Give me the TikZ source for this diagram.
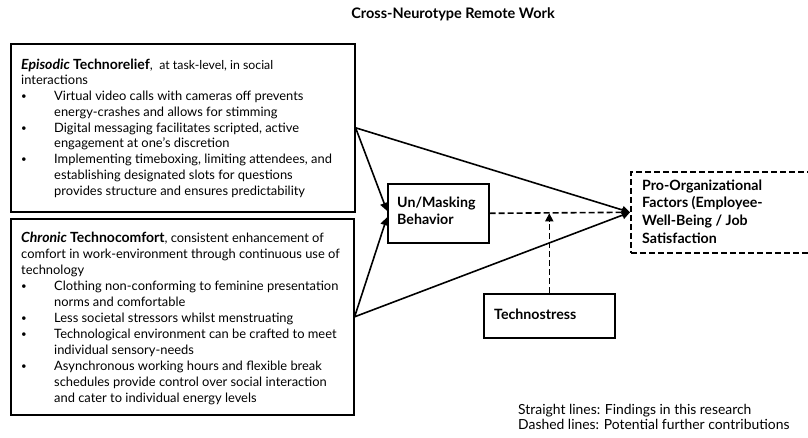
\documentclass[tikz,border=0pt]{standalone}
\usepackage{fontspec}
\setmainfont{Lato}
\usetikzlibrary{arrows.meta}
\newcommand{\bul}{\makebox[33pt][l]{\raisebox{1pt}{\scalebox{0.75}{\textbullet}}}}
\newcommand{\ind}{\hspace*{33pt}}
\newcommand{\hb}[1]{{\fontsize{14}{15.75}\selectfont\bfseries #1}}
\begin{document}
\begin{tikzpicture}[x=1pt,y=-1pt,
  box/.style={draw,line width=1.6pt,inner sep=0pt,anchor=north west},
  dbox/.style={box,dash pattern=on 6pt off 3pt},
  txt/.style={inner sep=0pt,anchor=base west,align=left},
  arr/.style={line width=1.6pt,-{Triangle[length=8pt,width=8pt]}},
  darr/.style={arr,dash pattern=on 6pt off 3pt}]
\useasboundingbox (0,0) rectangle (808,437);
% title
\node[inner sep=0pt,font=\fontsize{14.5}{16}\selectfont\bfseries] (title) at (453,14) {Cross-Neurotype Remote Work};
% boxes
\node[box,minimum width=344pt,minimum height=168pt] (b1) at (10,43) {};
\node[box,minimum width=343pt,minimum height=196pt] (b2) at (10,218) {};
\node[box,minimum width=101pt,minimum height=59pt] (um) at (387,183) {};
\node[dbox,minimum width=190pt,minimum height=81pt] (po) at (630,171) {};
\node[box,minimum width=131pt,minimum height=44pt] (ts) at (483,293) {};
% box 1 text
\node[txt] (t1) at (21,69) {\parbox[t]{330pt}{\fontsize{12.9}{15.75}\selectfont
\hb{\itshape Episodic} \hb{Technorelief},\ \ {\fontsize{12.3}{15.75}\selectfont at task-level, in social}\\
interactions\\
\bul Virtual video calls with cameras off prevents\\
\ind energy-crashes and allows for stimming\\
\bul Digital messaging facilitates scripted, active\\
\ind engagement at one's discretion\\
\bul Implementing timeboxing, limiting attendees, and\\
\ind establishing designated slots for questions\\
\ind provides structure and ensures predictability}};
% box 2 text
\node[txt] (t2) at (21,242) {\parbox[t]{330pt}{\fontsize{12.9}{16}\selectfont
\hb{\itshape Chronic} \hb{Technocomfort}, consistent enhancement of\\
comfort in work-environment through continuous use of\\
technology\\
\bul Clothing non-conforming to feminine presentation\\
\ind norms and comfortable\\
\bul Less societal stressors whilst menstruating\\
\bul Technological environment can be crafted to meet\\
\ind individual sensory-needs\\
\bul Asynchronous working hours and flexible break\\
\ind schedules provide control over social interaction\\
\ind and cater to individual energy levels}};
% labels
\node[txt] (umt) at (397,207) {\parbox[t]{90pt}{\fontsize{14.2}{17.7}\selectfont\bfseries Un/Masking\\Behavior}};
\node[txt] (pot) at (642,190) {\parbox[t]{165pt}{\fontsize{14.2}{17.7}\selectfont\bfseries Pro-Organizational\\Factors (Employee-\\Well-Being / Job\\Satisfaction}};
\node[txt,font=\fontsize{14.2}{17}\selectfont\bfseries] (tst) at (494,319) {Technostress};
% legend
\node[txt] (leg) at (518,414) {\parbox[t]{290pt}{\fontsize{13.9}{15.5}\selectfont Straight lines: Findings in this research\\Dashed lines: Potential further contributions}};
% connectors
\draw[arr] (b1.east) -- ([yshift=2.5pt]um.west);
\draw[arr] (b1.east) -- (po.west);
\draw[arr] (b2.east) -- ([yshift=-4pt]um.west);
\draw[arr] (b2.east) -- (po.west);
\draw[darr] (um.east) -- (po.west);
\coordinate (tsend) at (ts.north |- um.east);
\draw[darr] (ts.north) -- (tsend);
\end{tikzpicture}
\end{document}
